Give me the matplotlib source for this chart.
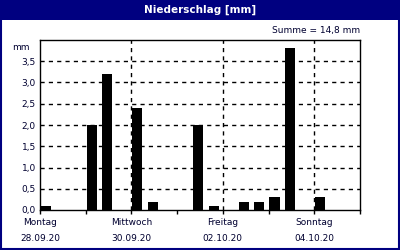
# Niederschlag, 8-Stunden-Summen über eine Woche
import matplotlib.pyplot as plt
from matplotlib.patches import Rectangle

# Werte je 8-Stunden-Intervall (21 Intervalle, 28.09.20 bis 04.10.20)
niederschlag = [0.1, 0, 0, 2.0, 3.2, 0, 2.4, 0.2, 0, 0, 2.0,
                0.1, 0, 0.2, 0.2, 0.3, 3.8, 0, 0.3, 0, 0]
tage = ['Montag\n28.09.20', '', 'Mittwoch\n30.09.20', '', 'Freitag\n02.10.20', '',
        'Sonntag\n04.10.20', '']
y_ticks = [0, 0.5, 1.0, 1.5, 2.0, 2.5, 3.0, 3.5]

navy = '#000080'
summe = sum(niederschlag)

fig = plt.figure(figsize=(4, 2.5), dpi=100)
fig.patch.set_facecolor('white')

# Titelleiste und Rahmen
fig.patches.append(Rectangle((0, 0.92), 1, 0.08, transform=fig.transFigure,
                             facecolor=navy, edgecolor='none', zorder=0))
fig.patches.append(Rectangle((0.002, 0.003), 0.995, 0.995, transform=fig.transFigure,
                             facecolor='none', edgecolor=navy, linewidth=1.5, zorder=5))
fig.text(0.5, 0.96, 'Niederschlag [mm]', color='white', fontsize=7.5,
         fontweight='bold', ha='center', va='center')

ax = fig.add_axes([0.1, 0.16, 0.8, 0.68])
x = [i / 3 + 0.02 for i in range(len(niederschlag))]
ax.bar(x, niederschlag, width=0.22, align='edge', color='black', zorder=3)

ax.set_xlim(0, 7)
ax.set_ylim(0, 4.0)
ax.set_yticks(y_ticks)
ax.set_yticklabels([f'{v:.1f}'.replace('.', ',') for v in y_ticks])
ax.set_xticks(range(8))
ax.set_xticklabels(tage, linespacing=1.9)
ax.tick_params(axis='x', direction='out', length=3, width=1, pad=3,
               labelsize=6.5, labelcolor='#000030')
ax.tick_params(axis='y', length=0, pad=3, labelsize=6.5, labelcolor='#000030')

for v in y_ticks[1:]:
    ax.axhline(v, color='black', linestyle=(0, (3, 3)), linewidth=1, zorder=1)
for d in [2, 4, 6]:
    ax.axvline(d, color='black', linestyle=(0, (3, 3)), linewidth=1, zorder=1)
for s in ax.spines.values():
    s.set_linewidth(1)

fig.text(0.075, 0.81, 'mm', fontsize=6.5, ha='right', va='center', color='#000030')
summe_txt = f'Summe = {summe:.1f} mm'.replace('.', ',')
fig.text(0.79, 0.88, summe_txt, fontsize=6.5, ha='center', va='center', color='#000030')

plt.savefig('out.png', dpi=100)
